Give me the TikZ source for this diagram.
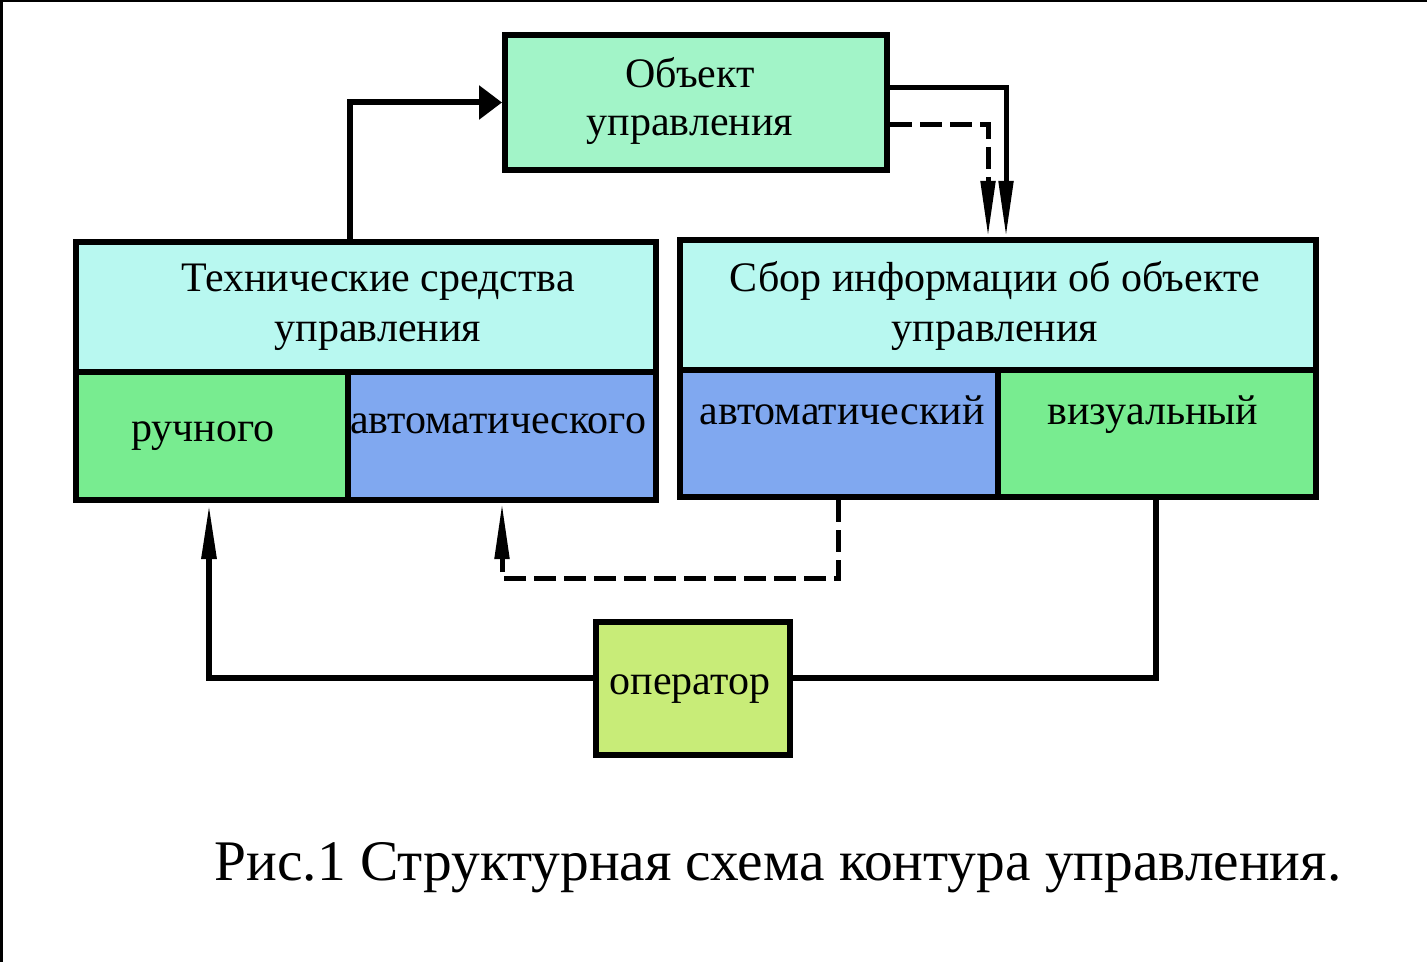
\documentclass[tikz,border=0pt]{standalone}
\usepackage{fontspec}
\setmainfont{Liberation Serif}
\usetikzlibrary{arrows.meta}
\definecolor{cobj}{HTML}{A2F4C8}
\definecolor{chead}{HTML}{B8F8F0}
\definecolor{cgreen}{HTML}{78EC90}
\definecolor{cblue}{HTML}{80A8F0}
\definecolor{coper}{HTML}{C8EC78}
\begin{document}
\begin{tikzpicture}[x=0.5pt,y=-0.5pt,
  box/.style={draw=black,line width=3pt,inner sep=0pt,rectangle},
  txt/.style={anchor=base,inner sep=0pt,font=\fontsize{21}{25}\selectfont},
  conn/.style={line width=3pt,line join=miter},
  thin/.style={line width=2.5pt,line join=miter},
  dsh/.style={dash pattern=on 11pt off 4pt},
  longtip/.style={-{Triangle[length=28pt,width=7pt]}},
  bigtip/.style={-{Triangle[length=11.5pt,width=16.5pt]}}]
\useasboundingbox (0,0) rectangle (1427,962);
\fill[white] (0,0) rectangle (1427,962);
\draw[line width=1.5pt] (1.5,962) -- (1.5,1) -- (1427,1);
% boxes
\node[box,fill=cobj,minimum width=191pt,minimum height=67.5pt] (obj) at (696,102.5) {};
\node[box,fill=chead,minimum width=290pt,minimum height=65pt] (tsu) at (366,307) {};
\node[box,fill=cgreen,minimum width=136pt,minimum height=64pt] (ruch) at (212,436) {};
\node[box,fill=cblue,minimum width=154pt,minimum height=64pt] (avto1) at (502,436) {};
\node[box,fill=chead,minimum width=318pt,minimum height=65pt] (sbor) at (998,305) {};
\node[box,fill=cblue,minimum width=159pt,minimum height=63.5pt] (avto2) at (839,433.5) {};
\node[box,fill=cgreen,minimum width=159pt,minimum height=63.5pt] (viz) at (1157,433.5) {};
\node[box,fill=coper,minimum width=97pt,minimum height=66.5pt] (op) at (692.5,688.5) {};
% texts
\node[txt] (t1) at (690,88) {Объект};
\node[txt] (t2) at (690,136) {управления};
\node[txt] (t3) at (378,292) {Технические средства};
\node[txt] (t4) at (378,341) {управления};
\node[txt] (t5) at (995,292) {Сбор информации об объекте};
\node[txt] (t6) at (995,341) {управления};
\node[txt] (t7) at (203,441) {ручного};
\node[txt] (t8) at (498,433) {автоматического};
\node[txt] (t9) at (842,424) {автоматический};
\node[txt] (t10) at (1153,424) {визуальный};
\node[txt] (t11) at (690,694) {оператор};
\node[anchor=base,inner sep=0pt,font=\fontsize{28.7}{34}\selectfont] (cap) at (778,880) {Рис.1 Структурная схема контура управления.};
% connectors
\draw[conn,bigtip] (350,0 |- tsu.north) |- (obj.west);
\draw[thin,longtip] (obj.east |- 0,88) -| (1006,0 |- sbor.north);
\draw[thin,dsh,longtip] (obj.east |- 0,125) -| (988,0 |- sbor.north);
\draw[thin,dsh,longtip] (838,0 |- avto2.south) -- (838,578) -| (502,0 |- avto1.south);
\draw[conn,longtip] (op.west |- 0,678) -| (209,0 |- ruch.south);
\draw[conn] (op.east |- 0,678) -| (1156,0 |- viz.south);
\end{tikzpicture}
\end{document}
